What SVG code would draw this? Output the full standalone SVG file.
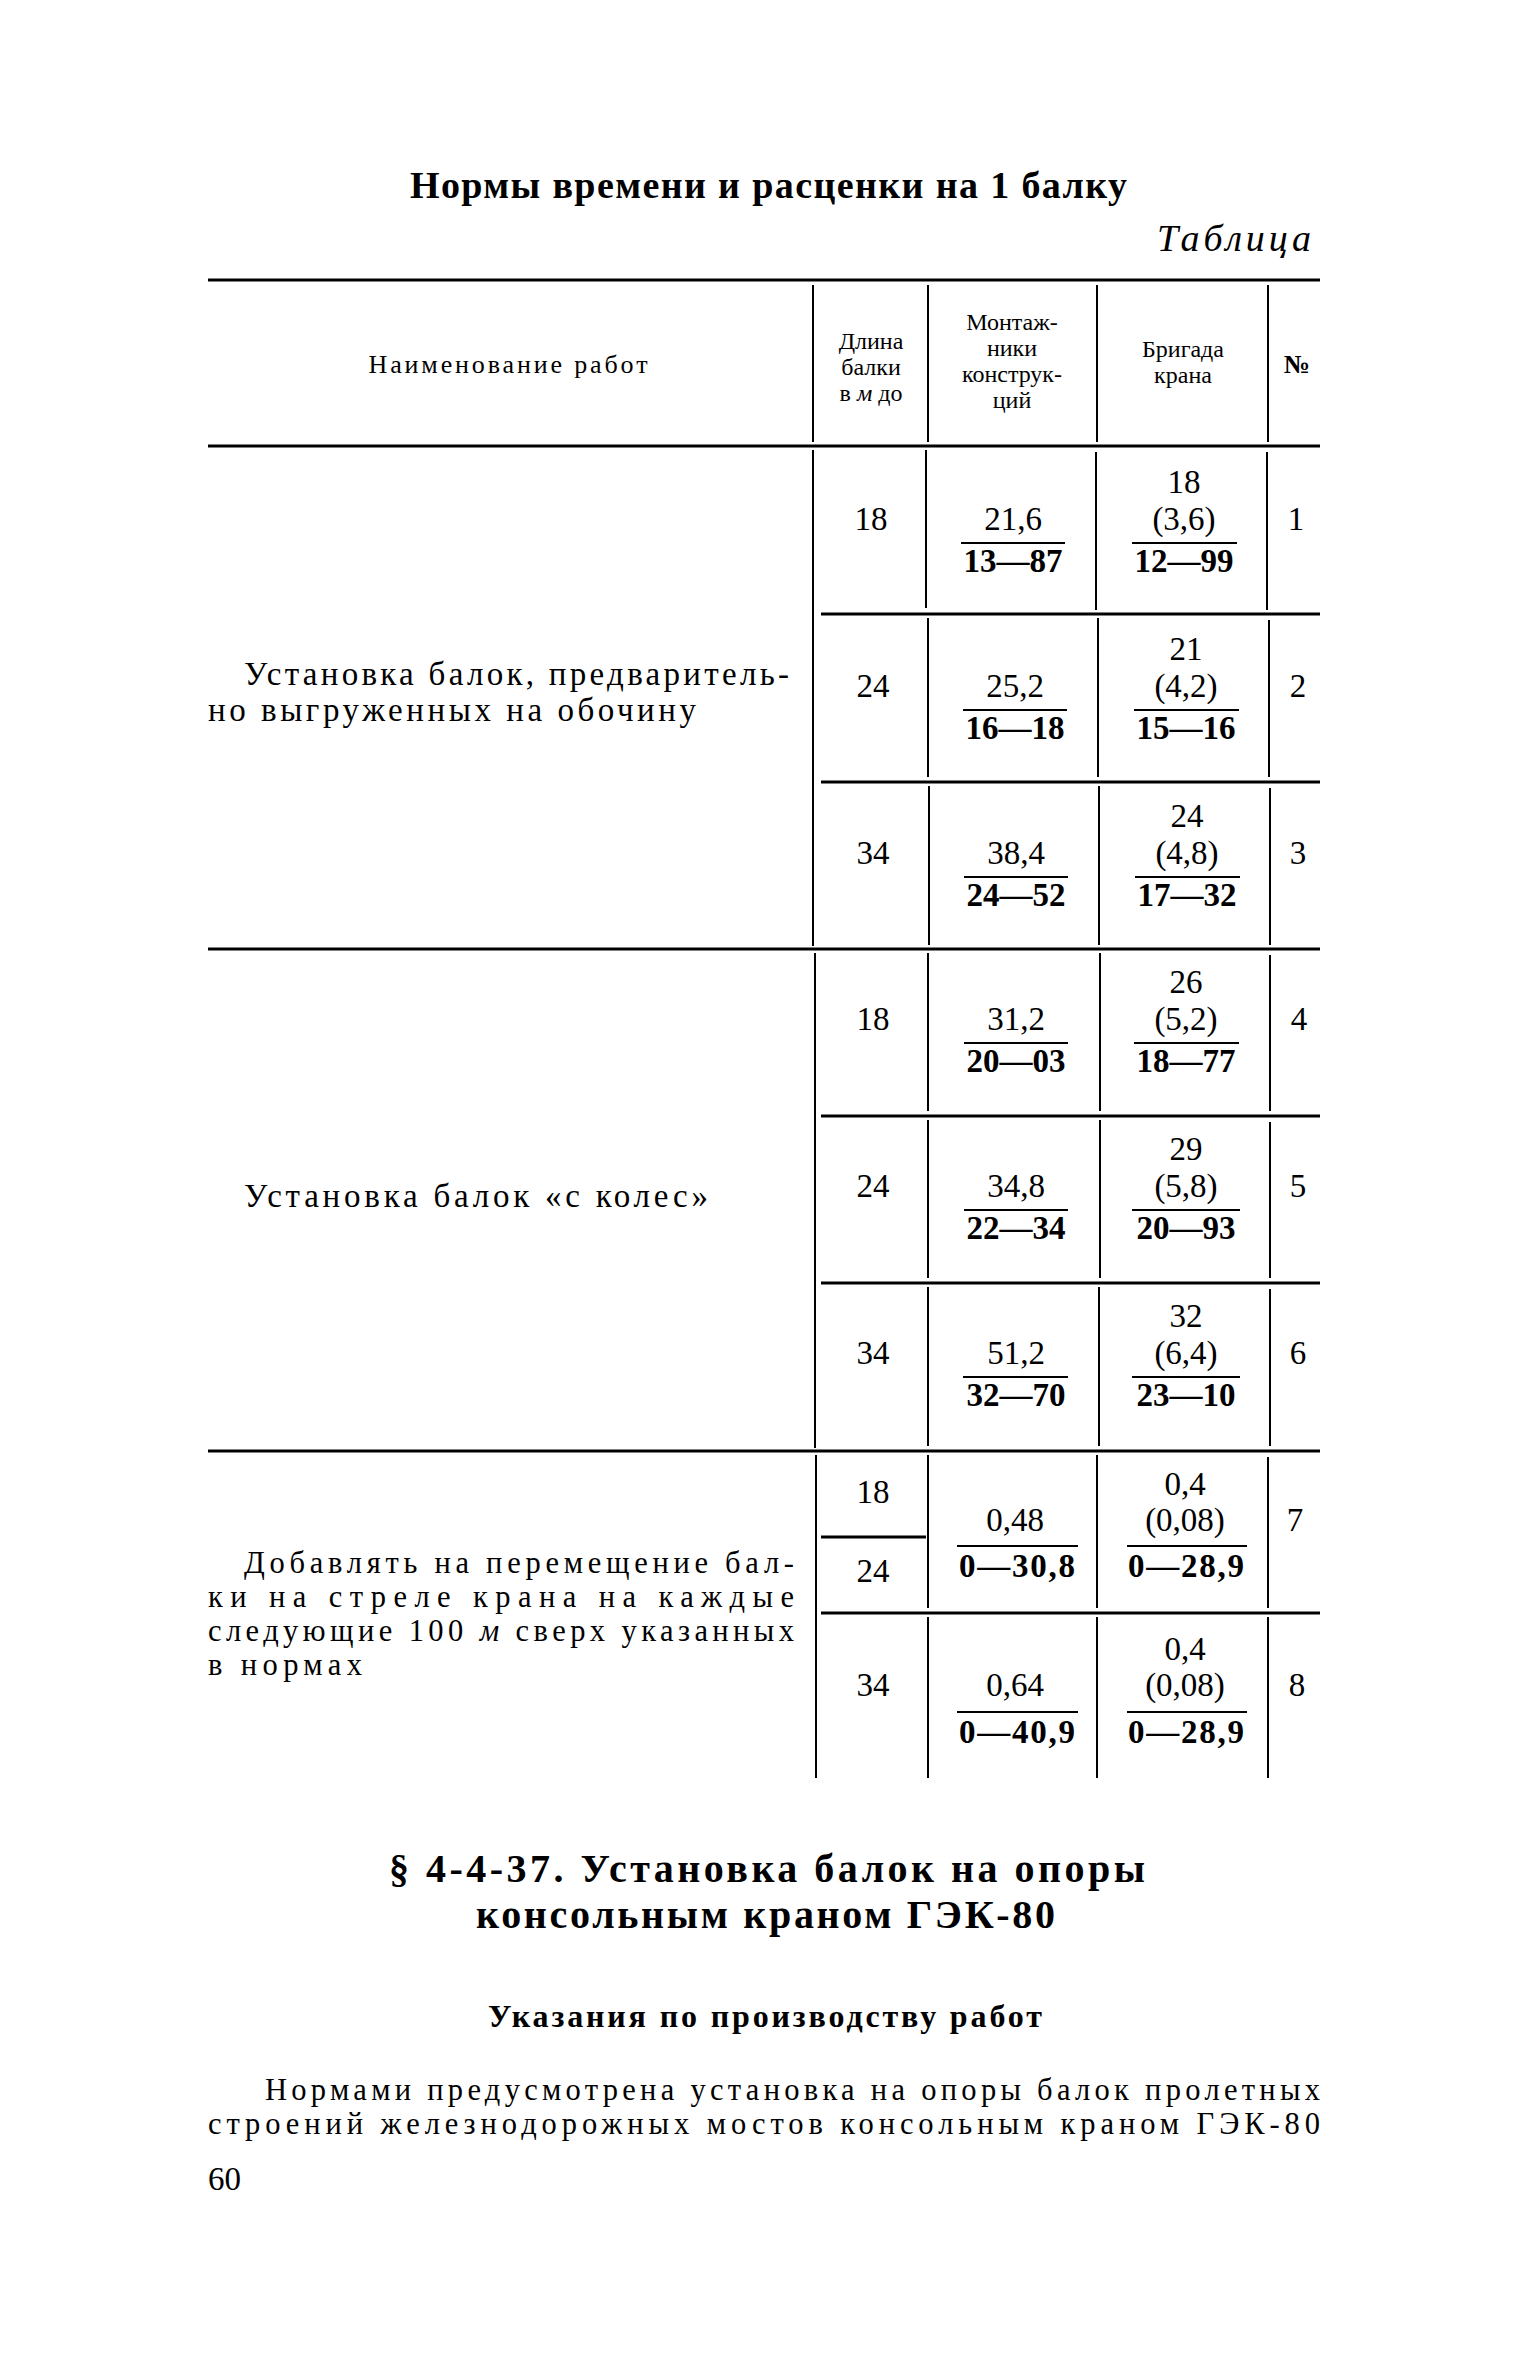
<svg xmlns="http://www.w3.org/2000/svg" width="1535" height="2362" viewBox="0 0 1535 2362">
<style>
text{font-family:"Liberation Serif","DejaVu Serif",serif;fill:#000}
.t{font-size:38px;font-weight:bold}
.it{font-size:38px;font-style:italic}
.h{font-size:24px;text-anchor:middle}
.hn{font-size:26px;text-anchor:middle}
.b{font-size:30.5px}
.bl{font-size:33px}
.n{font-size:33px;text-anchor:middle}
.d{font-size:33px;text-anchor:middle;font-weight:bold}
.sec{font-size:40px;font-weight:bold}
.sub{font-size:32px;font-weight:bold}
.rule{stroke:#000;stroke-width:3.2;fill:none}
.v{stroke:#000;stroke-width:2;fill:none}
.f{stroke:#000;stroke-width:2.2;fill:none}
</style>
<rect width="1535" height="2362" fill="#fff"/>

<text class="t" x="410" y="198" textLength="717">Нормы времени и расценки на 1 балку</text>
<text class="it" x="1157" y="251" textLength="154">Таблица</text>

<g id="connectors">
  <line class="rule" x1="208" y1="280" x2="1320" y2="280"/>
  <line class="rule" x1="208" y1="446" x2="1320" y2="446"/>
  <line class="rule" x1="821" y1="614" x2="1320" y2="614"/>
  <line class="rule" x1="821" y1="782" x2="1320" y2="782"/>
  <line class="rule" x1="208" y1="949" x2="1320" y2="949"/>
  <line class="rule" x1="821" y1="1116" x2="1320" y2="1116"/>
  <line class="rule" x1="821" y1="1283" x2="1320" y2="1283"/>
  <line class="rule" x1="208" y1="1451" x2="1320" y2="1451"/>
  <line class="rule" x1="821" y1="1537" x2="926" y2="1537"/>
  <line class="rule" x1="821" y1="1613" x2="1320" y2="1613"/>
  <!-- header verticals -->
  <line class="v" x1="813" y1="285" x2="813" y2="442"/>
  <line class="v" x1="928" y1="285" x2="928" y2="442"/>
  <line class="v" x1="1097" y1="285" x2="1097" y2="442"/>
  <line class="v" x1="1268" y1="285" x2="1268" y2="442"/>
  <!-- left verticals per group -->
  <line class="v" x1="813" y1="450" x2="813" y2="946"/>
  <line class="v" x1="815" y1="953" x2="815" y2="1448"/>
  <line class="v" x1="816" y1="1455" x2="816" y2="1778"/>
  <!-- row verticals -->
  <line class="v" x1="926" y1="450" x2="926" y2="608"/>
  <line class="v" x1="1096" y1="452" x2="1096" y2="610"/>
  <line class="v" x1="1267" y1="452" x2="1267" y2="610"/>
  <line class="v" x1="928" y1="618" x2="928" y2="777"/>
  <line class="v" x1="1098" y1="618" x2="1098" y2="777"/>
  <line class="v" x1="1269" y1="620" x2="1269" y2="777"/>
  <line class="v" x1="929" y1="786" x2="929" y2="945"/>
  <line class="v" x1="1099" y1="786" x2="1099" y2="945"/>
  <line class="v" x1="1270" y1="788" x2="1270" y2="945"/>
  <line class="v" x1="928" y1="953" x2="928" y2="1111"/>
  <line class="v" x1="1100" y1="953" x2="1100" y2="1111"/>
  <line class="v" x1="1270" y1="955" x2="1270" y2="1111"/>
  <line class="v" x1="928" y1="1120" x2="928" y2="1278"/>
  <line class="v" x1="1100" y1="1120" x2="1100" y2="1278"/>
  <line class="v" x1="1270" y1="1122" x2="1270" y2="1278"/>
  <line class="v" x1="928" y1="1287" x2="928" y2="1446"/>
  <line class="v" x1="1099" y1="1287" x2="1099" y2="1446"/>
  <line class="v" x1="1270" y1="1289" x2="1270" y2="1446"/>
  <line class="v" x1="928" y1="1455" x2="928" y2="1608"/>
  <line class="v" x1="1097" y1="1455" x2="1097" y2="1608"/>
  <line class="v" x1="1268" y1="1457" x2="1268" y2="1608"/>
  <line class="v" x1="928" y1="1617" x2="928" y2="1778"/>
  <line class="v" x1="1097" y1="1617" x2="1097" y2="1778"/>
  <line class="v" x1="1268" y1="1617" x2="1268" y2="1778"/>
</g>

<g id="header">
  <text class="hn" x="508" y="373" textLength="279">Наименование работ</text>
  <text class="h" x="871" y="349">Длина</text>
  <text class="h" x="871" y="375">балки</text>
  <text class="h" x="871" y="401">в <tspan font-style="italic">м</tspan> до</text>
  <text class="h" x="1012" y="330">Монтаж-</text>
  <text class="h" x="1012" y="356">ники</text>
  <text class="h" x="1012" y="382">конструк-</text>
  <text class="h" x="1012" y="408">ций</text>
  <text class="h" x="1183" y="357">Бригада</text>
  <text class="h" x="1183" y="383">крана</text>
  <text class="hn" x="1297" y="373" font-weight="bold">№</text>
</g>

<g id="group1-label">
  <text class="bl" x="244" y="685" textLength="545">Установка балок, предваритель-</text>
  <text class="bl" x="208" y="721" textLength="488">но выгруженных на обочину</text>
</g>
<g id="group2-label">
  <text class="bl" x="244" y="1207" textLength="464">Установка балок «с колес»</text>
</g>
<g id="group3-label">
  <text class="b" x="244" y="1573" textLength="550">Добавлять на перемещение бал-</text>
  <text class="b" x="208" y="1607" textLength="586">ки на стреле крана на каждые</text>
  <text class="b" x="208" y="1641" textLength="586">следующие 100 <tspan font-style="italic">м</tspan> сверх указанных</text>
  <text class="b" x="208" y="1675" textLength="154">в нормах</text>
</g>

<g id="row1">
  <text class="n" x="871" y="530">18</text>
  <text class="n" x="1013" y="530">21,6</text>
  <line class="f" x1="961" y1="543" x2="1065" y2="543"/>
  <text class="d" x="1013" y="572">13—87</text>
  <text class="n" x="1184" y="493">18</text>
  <text class="n" x="1184" y="530">(3,6)</text>
  <line class="f" x1="1132" y1="543" x2="1237" y2="543"/>
  <text class="d" x="1184" y="572">12—99</text>
  <text class="n" x="1296" y="530">1</text>
</g>
<g id="row2">
  <text class="n" x="873" y="697">24</text>
  <text class="n" x="1015" y="697">25,2</text>
  <line class="f" x1="963" y1="710" x2="1067" y2="710"/>
  <text class="d" x="1015" y="739">16—18</text>
  <text class="n" x="1186" y="660">21</text>
  <text class="n" x="1186" y="697">(4,2)</text>
  <line class="f" x1="1134" y1="710" x2="1239" y2="710"/>
  <text class="d" x="1186" y="739">15—16</text>
  <text class="n" x="1298" y="697">2</text>
</g>
<g id="row3">
  <text class="n" x="873" y="864">34</text>
  <text class="n" x="1016" y="864">38,4</text>
  <line class="f" x1="964" y1="877" x2="1068" y2="877"/>
  <text class="d" x="1016" y="906">24—52</text>
  <text class="n" x="1187" y="827">24</text>
  <text class="n" x="1187" y="864">(4,8)</text>
  <line class="f" x1="1135" y1="877" x2="1240" y2="877"/>
  <text class="d" x="1187" y="906">17—32</text>
  <text class="n" x="1298" y="864">3</text>
</g>
<g id="row4">
  <text class="n" x="873" y="1030">18</text>
  <text class="n" x="1016" y="1030">31,2</text>
  <line class="f" x1="964" y1="1043" x2="1068" y2="1043"/>
  <text class="d" x="1016" y="1072">20—03</text>
  <text class="n" x="1186" y="993">26</text>
  <text class="n" x="1186" y="1030">(5,2)</text>
  <line class="f" x1="1134" y1="1043" x2="1239" y2="1043"/>
  <text class="d" x="1186" y="1072">18—77</text>
  <text class="n" x="1299" y="1030">4</text>
</g>
<g id="row5">
  <text class="n" x="873" y="1197">24</text>
  <text class="n" x="1016" y="1197">34,8</text>
  <line class="f" x1="964" y1="1210" x2="1068" y2="1210"/>
  <text class="d" x="1016" y="1239">22—34</text>
  <text class="n" x="1186" y="1160">29</text>
  <text class="n" x="1186" y="1197">(5,8)</text>
  <line class="f" x1="1132" y1="1210" x2="1240" y2="1210"/>
  <text class="d" x="1186" y="1239">20—93</text>
  <text class="n" x="1298" y="1197">5</text>
</g>
<g id="row6">
  <text class="n" x="873" y="1364">34</text>
  <text class="n" x="1016" y="1364">51,2</text>
  <line class="f" x1="963" y1="1377" x2="1068" y2="1377"/>
  <text class="d" x="1016" y="1406">32—70</text>
  <text class="n" x="1186" y="1327">32</text>
  <text class="n" x="1186" y="1364">(6,4)</text>
  <line class="f" x1="1132" y1="1377" x2="1240" y2="1377"/>
  <text class="d" x="1186" y="1406">23—10</text>
  <text class="n" x="1298" y="1364">6</text>
</g>
<g id="row7">
  <text class="n" x="873" y="1503">18</text>
  <text class="n" x="873" y="1582">24</text>
  <text class="n" x="1015" y="1531">0,48</text>
  <line class="f" x1="957" y1="1546" x2="1078" y2="1546"/>
  <text class="d" x="1017" y="1577" textLength="116">0—30,8</text>
  <text class="n" x="1185" y="1495">0,4</text>
  <text class="n" x="1185" y="1531">(0,08)</text>
  <line class="f" x1="1127" y1="1546" x2="1247" y2="1546"/>
  <text class="d" x="1186" y="1577" textLength="116">0—28,9</text>
  <text class="n" x="1295" y="1531">7</text>
</g>
<g id="row8">
  <text class="n" x="873" y="1696">34</text>
  <text class="n" x="1015" y="1696">0,64</text>
  <line class="f" x1="957" y1="1712" x2="1078" y2="1712"/>
  <text class="d" x="1017" y="1743" textLength="116">0—40,9</text>
  <text class="n" x="1185" y="1660">0,4</text>
  <text class="n" x="1185" y="1696">(0,08)</text>
  <line class="f" x1="1127" y1="1712" x2="1247" y2="1712"/>
  <text class="d" x="1186" y="1743" textLength="116">0—28,9</text>
  <text class="n" x="1297" y="1696">8</text>
</g>

<g id="section">
  <text class="sec" x="389" y="1882" textLength="756">§ 4-4-37. Установка балок на опоры</text>
  <text class="sec" x="476" y="1928" textLength="579">консольным краном ГЭК-80</text>
  <text class="sub" x="488" y="2027" textLength="554">Указания по производству работ</text>
  <text class="b" x="265" y="2100" textLength="1055">Нормами предусмотрена установка на опоры балок пролетных</text>
  <text class="b" x="208" y="2134" textLength="1112">строений железнодорожных мостов консольным краном ГЭК-80</text>
  <text class="bl" x="208" y="2190">60</text>
</g>
</svg>
